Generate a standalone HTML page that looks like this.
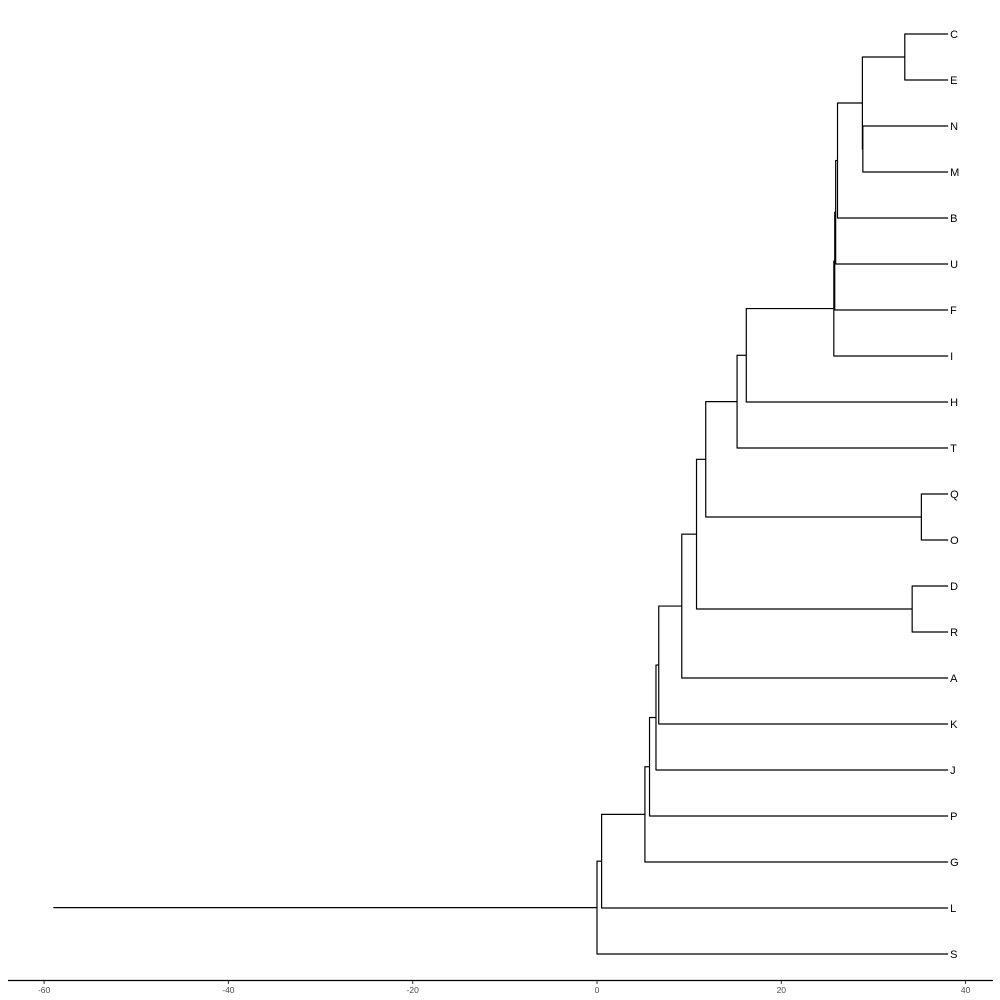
<!DOCTYPE html>
<html><head><meta charset="utf-8"><style>
html,body{margin:0;padding:0;background:#fff;}
svg{display:block;font-family:"Liberation Sans",sans-serif;}
</style></head><body>
<svg id="chart" width="1000" height="1000"></svg>
<script>
const leaves = ["C","E","N","M","B","U","F","I","H","T","Q","O","D","R","A","K","J","P","G","L","S"];
const leafHeight = 38.1;
const nodeNames = ["CE","NM","CENM","Bn","Un","Fn","In","Hn","Tn","QO","Qn","DR","Dn","An","Kn","Jn","Pn","Gn","Ln","root"];
const nodeChildren = [["C","E"],["N","M"],["CE","NM"],["CENM","B"],["Bn","U"],["Un","F"],["Fn","I"],["In","H"],["Hn","T"],["Q","O"],["Tn","QO"],["D","R"],["Qn","DR"],["Dn","A"],["An","K"],["Kn","J"],["Jn","P"],["Pn","G"],["Gn","L"],["Ln","S"]];
const nodeHeights = [33.4,28.85,28.8,26.1,25.9,25.8,25.7,16.2,15.2,35.2,11.8,34.2,10.8,9.2,6.7,6.4,5.7,5.2,0.5,0];
const rootEdgeStart = -59;
const xTicks = [-60,-40,-20,0,20,40];

const svg = document.getElementById('chart');
const NS = "http://www.w3.org/2000/svg";
const xs = v => 597 + v * 9.215;
const ys = i => 34 + i * 46;
const pos = {};
leaves.forEach((l,i)=>{ pos[l] = {x: leafHeight, y: ys(i)}; });
nodeNames.forEach((n,i)=>{
  const c = nodeChildren[i];
  pos[n] = {x: nodeHeights[i], y: (pos[c[0]].y + pos[c[1]].y)/2};
});
function line(x1,y1,x2,y2,name,w){
  const l = document.createElementNS(NS,'line');
  l.setAttribute('x1',x1);l.setAttribute('y1',y1);l.setAttribute('x2',x2);l.setAttribute('y2',y2);
  l.setAttribute('stroke','#000');l.setAttribute('stroke-width',w||1);
  
  
  svg.appendChild(l);
}
nodeNames.forEach((n,i)=>{
  const p = pos[n];
  const c = nodeChildren[i];
  const yA = Math.min(pos[c[0]].y,pos[c[1]].y), yB = Math.max(pos[c[0]].y,pos[c[1]].y);
  line(xs(p.x), yA-0.5, xs(p.x), yB+0.5, 'branch-vertical-'+n.toLowerCase(), 1.2);
  c.forEach(ch=>{
    line(xs(p.x), pos[ch].y, xs(pos[ch].x), pos[ch].y, 'branch-'+ch.toLowerCase(), 1.2);
  });
});
line(xs(rootEdgeStart), pos.root.y, xs(0), pos.root.y, 'root-edge', 1.2);
leaves.forEach((l,i)=>{
  const t = document.createElementNS(NS,'text');
  t.setAttribute('x', xs(leafHeight)+2);
  t.setAttribute('y', ys(i)+4);
  t.setAttribute('font-size','11');
  t.textContent = l;
  
  
  svg.appendChild(t);
});
line(8, 980.5, 993, 980.5, 'x-axis-line', 1.2);
xTicks.forEach(v=>{
  const tk = document.createElementNS(NS,'line');
  tk.setAttribute('x1',xs(v));tk.setAttribute('x2',xs(v));tk.setAttribute('y1',981);tk.setAttribute('y2',984);
  tk.setAttribute('stroke','#333');
  
  
  svg.appendChild(tk);
  const t = document.createElementNS(NS,'text');
  t.setAttribute('x', xs(v));t.setAttribute('y', 993);
  t.setAttribute('font-size','8.5');t.setAttribute('fill','#4d4d4d');t.setAttribute('text-anchor','middle');
  t.textContent = v;
  
  
  svg.appendChild(t);
});
</script>
</body></html>
